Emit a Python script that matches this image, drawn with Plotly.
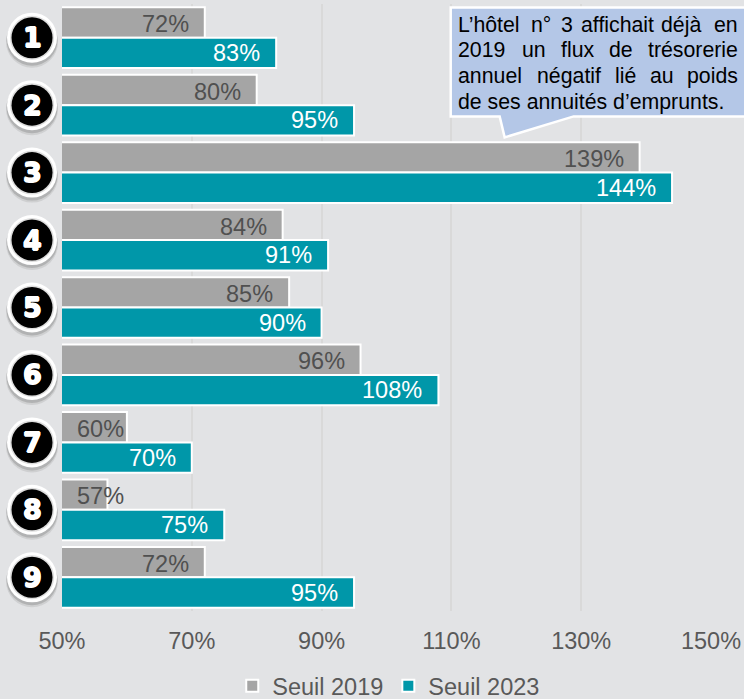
import plotly.graph_objects as go

# Hotel numbers and break-even thresholds, in percent
hotels = [1, 2, 3, 4, 5, 6, 7, 8, 9]
seuil_2019 = [72, 80, 139, 84, 85, 96, 60, 57, 72]
seuil_2023 = [83, 95, 144, 91, 90, 108, 70, 75, 95]
tick_values = [50, 70, 90, 110, 130, 150]
tick_labels = ["50%", "70%", "90%", "110%", "130%", "150%"]
note_lines = [
    ["L’hôtel", "n°", "3", "affichait", "déjà", "en"],
    ["2019", "un", "flux", "de", "trésorerie"],
    ["annuel", "négatif", "lié", "au", "poids"],
    ["de ses annuités d’emprunts."],
]
note_word_x = [
    [458, 531, 561, 581, 661, 715],
    [458, 522, 561, 609, 648],
    [458, 537, 615, 650, 687],
    [458],
]
note_line_y = [25, 50, 76, 102]

W, H = 744, 699
LEFT, RIGHT, TOP, BOTTOM = 62, 711.5, 3.5, 611
BG = "#e2e3e5"
GREY, TEAL = "#a5a5a5", "#0097a9"
FONT = "Liberation Sans"


def px(x):
    return (x - LEFT) / (RIGHT - LEFT)


def py(y):
    return 1 - (y - TOP) / (BOTTOM - TOP)


fig = go.Figure()
for name, values, color in [("Seuil 2019", seuil_2019, GREY), ("Seuil 2023", seuil_2023, TEAL)]:
    fig.add_trace(go.Bar(
        name=name, y=hotels, x=values, orientation="h",
        marker=dict(color=color, line=dict(color="white", width=2)),
        hoverinfo="x+y",
    ))

annotations = []
shapes = []

# Value labels sit a fixed distance inside the bar end, except on very short bars
for values, offset, color in [(seuil_2019, -13.5, "#505050"), (seuil_2023, 15.25, "white")]:
    for hotel, v in zip(hotels, values):
        annotations.append(dict(
            x=max(v, 60), y=hotel, xref="x", yref="y", text=f"{v}%", showarrow=False,
            xanchor="right", yanchor="middle", xshift=-14 if v > 60 else -1, yshift=-offset,
            font=dict(family=FONT, size=23.5, color=color),
        ))

# Numbered round badges left of the axis
for hotel in hotels:
    for dy, r, fill in [(4, 26, "rgba(120,120,120,0.18)"), (2.5, 25.5, "rgba(110,110,110,0.3)"),
                        (0, 25, "#ffffff"), (0, 22, "#dddddd"), (0, 20.5, "#000000")]:
        shapes.append(dict(
            type="circle", xref="paper", yref="y", xsizemode="pixel", ysizemode="pixel",
            xanchor=px(32), yanchor=hotel, x0=-r, x1=r, y0=-r - dy, y1=r - dy,
            fillcolor=fill, line=dict(width=0), layer="above",
        ))
    annotations.append(dict(
        x=px(32), y=hotel, xref="paper", yref="y", text=str(hotel), showarrow=False,
        xanchor="center", yanchor="middle",
        font=dict(family="DejaVu Sans", size=27, color="white", weight=700,
                  shadow="0.8px 0 0 #fff, -0.8px 0 0 #fff, 0 0.8px 0 #fff, 0 -0.8px 0 #fff"),
    ))

# Callout box with its pointer towards hotel 3
outline = [(451, 7), (750, 7), (750, 116), (574, 116), (505, 137), (500, 116), (451, 116)]
path = "M" + "L".join(f"{px(x)},{py(y)}" for x, y in outline) + "Z"
shapes.append(dict(type="path", xref="paper", yref="paper", path=path,
                   fillcolor="#b4c7e7", line=dict(color="white", width=2.5), layer="above"))
for words, xs, y in zip(note_lines, note_word_x, note_line_y):
    for word, x in zip(words, xs):
        annotations.append(dict(
            x=px(x), y=py(y), xref="paper", yref="paper", text=word, showarrow=False,
            xanchor="left", yanchor="middle", xshift=-2,
            font=dict(family=FONT, size=21.3, color="black"),
        ))

fig.update_layout(
    width=W, height=H, autosize=False,
    margin=dict(l=LEFT, r=W - RIGHT, t=TOP, b=H - BOTTOM, pad=0, autoexpand=False),
    paper_bgcolor=BG, plot_bgcolor=BG,
    barmode="group", bargap=0.1, bargroupgap=0,
    font=dict(family=FONT, color="#595959"),
    showlegend=True,
    legend=dict(orientation="h", x=px(389), xanchor="center", xref="paper", y=py(664), yanchor="top",
                font=dict(family=FONT, size=23.5, color="#595959"),
                itemwidth=30, bgcolor="rgba(0,0,0,0)"),
    annotations=annotations, shapes=shapes,
    xaxis=dict(range=[50, 150], tickvals=tick_values, ticktext=tick_labels,
               showgrid=True, gridcolor="#d9d9d9", gridwidth=1.5, zeroline=False,
               showline=False, ticks="outside", ticklen=9, tickcolor="rgba(0,0,0,0)",
               tickfont=dict(family=FONT, size=23.5, color="#595959")),
    yaxis=dict(range=[9.5, 0.5], showticklabels=False, ticks="", showgrid=False,
               zeroline=False, showline=False),
)

fig.write_html("out.html", config=dict(displayModeBar=False))
